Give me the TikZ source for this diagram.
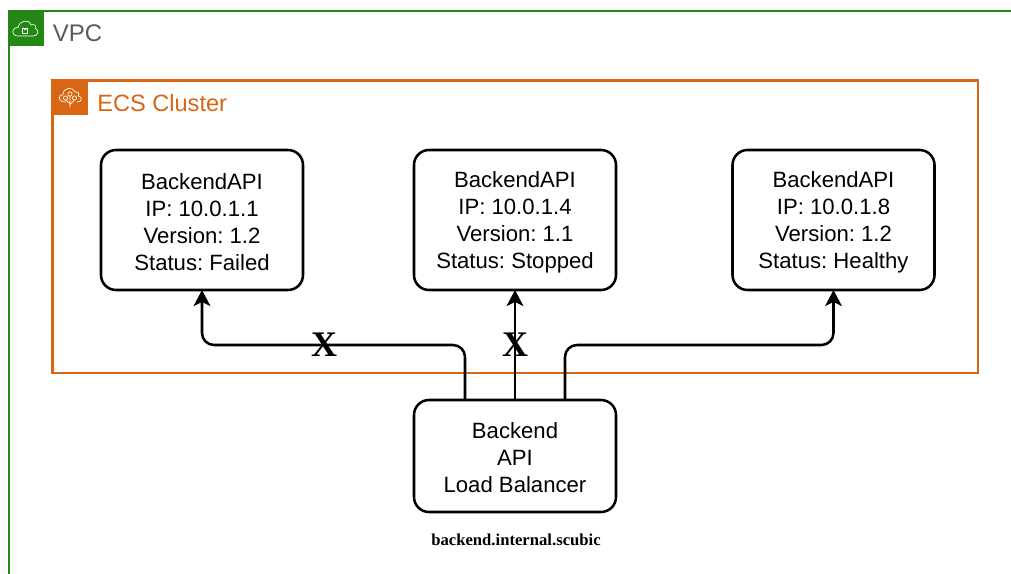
\documentclass[tikz,border=0pt]{standalone}
\usepackage{fontspec}
\setmainfont{Liberation Sans}
\newfontfamily\serifx{Liberation Serif}
\usetikzlibrary{arrows.meta}
\definecolor{vpcg}{HTML}{248814}
\definecolor{ecso}{HTML}{D86613}
\definecolor{vpct}{HTML}{545B64}
\newcommand{\topstrut}{\rule{0pt}{15pt}}
\tikzset{
  apibox/.style={draw=black,line width=1.9pt,rounded corners=11.25pt,minimum width=151.5pt,minimum height=105pt,align=center,font=\fontsize{16.6}{20.2}\selectfont,inner sep=0pt,outer sep=0pt,fill=white},
  conn/.style={draw=black,line width=1.9pt,rounded corners=9pt,-{Stealth[length=12pt,width=12.5pt,inset=3pt]}},
  xmark/.style={font=\serifx\bfseries\fontsize{27}{27}\selectfont,inner sep=0pt},
  icn/.style={draw=white,line width=0.5pt,line join=round}
}
\begin{document}
\frenchspacing
\begin{tikzpicture}[x=0.75pt,y=-0.75pt]
\useasboundingbox (0,0) rectangle (1011,574);
% VPC group
\coordinate (vtr) at (1011,11);
\coordinate (vtl) at (8.5,11);
\coordinate (vbl) at (8.5,574);
\draw[vpcg,line width=1.5pt] (vtr) -- (vtl) -- (vbl);
\node[fill=vpcg,minimum size=27pt,inner sep=0pt,outer sep=0pt,anchor=north west] (vicon) at (7.5,10) {};
\node[anchor=west,inner sep=0pt,text=vpct,font=\fontsize{18}{20}\selectfont] (vlabel) at (52.5,33) {VPC};
\draw[icn] (18,36) .. controls (11,36) and (11,27.5) .. (18,27.5) .. controls (18.5,21) and (29,18) .. (31,25) .. controls (34,23.5) and (37,26) .. (35.5,28.5) .. controls (39.5,30) and (38.5,36) .. (33,36) -- cycle;
\draw[icn] (22.2,28) rectangle (27.8,33);
\draw[white,line width=0.5pt] (23.2,28) arc[start angle=180,end angle=0,radius=1.8];
% ECS group
\node[draw=ecso,line width=1.8pt,anchor=north west,minimum width=694pt,minimum height=219.5pt,inner sep=0pt,outer sep=0pt] (ecs) at (52.5,80.5) {};
\node[fill=ecso,minimum size=27pt,inner sep=0pt,outer sep=0pt,anchor=north west] (eicon) at (51.5,79.5) {};
\node[anchor=west,inner sep=0pt,text=ecso,font=\fontsize{17.7}{20}\selectfont] (elabel) at (97,103) {ECS Cluster};
\draw[icn] (66,102) .. controls (58,102.5) and (57,95) .. (63,94.5) .. controls (63,87.5) and (73,86) .. (75,92) .. controls (78,91) and (80,94) .. (78.5,96) .. controls (83,97) and (82,102.5) .. (77,102);
\draw[icn] (70,94) circle (2.1) (65.5,98) circle (2.1) (74.5,98) circle (2.1);
\draw[icn] (70,96.1) -- (70,107.5) (65.5,100.1) -- (70,103.5) (74.5,100.1) -- (70,104.5);
% Boxes
\node[apibox] (a1) at (202,220) {\topstrut BackendAPI\\IP: 10.0.1.1\\Version: 1.2\\Status: Failed};
\node[apibox] (a2) at (515,220) {\topstrut BackendAPI\\IP: 10.0.1.4\\Version: 1.1\\Status: Stopped};
\node[apibox] (a3) at (833.5,220) {\topstrut BackendAPI\\IP: 10.0.1.8\\Version: 1.2\\Status: Healthy};
\node[apibox,minimum height=84pt] (lb) at (515,456) {\rule{0pt}{14.5pt}Backend\\API\\Load Balancer};
\node[font=\serifx\bfseries\fontsize{12.5}{14}\selectfont,inner sep=0pt] (dns) at (516,540) {backend.internal.scubic};
% Connectors
\draw[conn] (lb.north -| 465,0) -- (465,345) -- (a1.south |- 0,345) -- (a1.south);
\draw[conn] (lb.north) -- (a2.south);
\draw[conn] (lb.north -| 565,0) -- (565,345) -- (a3.south |- 0,345) -- (a3.south);
\node[xmark] (x1) at (324,345) {X};
\node[xmark] (x2) at (515,345) {X};
\end{tikzpicture}
\end{document}
